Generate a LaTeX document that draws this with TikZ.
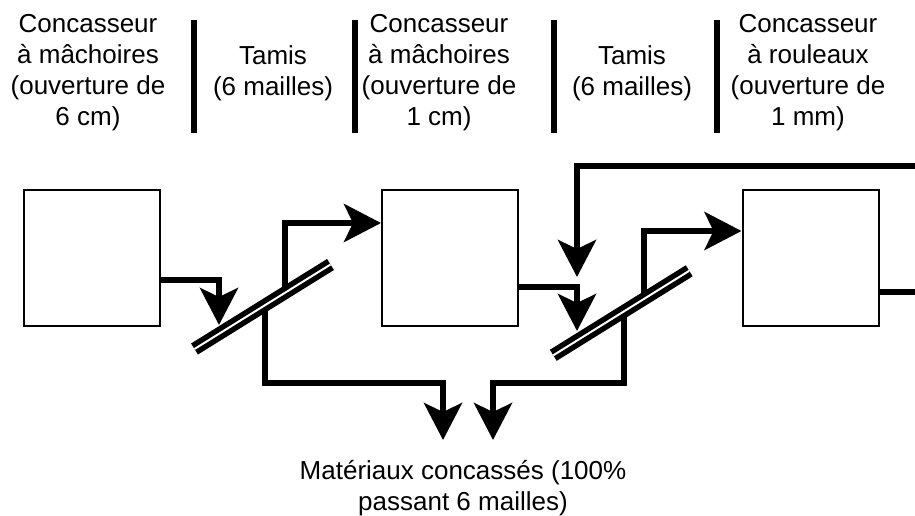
\documentclass[tikz,border=0pt]{standalone}
\usepackage{fontspec}
\setmainfont{Liberation Sans}
\usetikzlibrary{arrows.meta,calc}
\begin{document}
\begin{tikzpicture}[x=1pt,y=-1pt,
  crusher/.style={draw, line width=2pt, minimum size=136pt, inner sep=0pt},
  flow/.style={line width=6pt, -{Stealth[length=37pt,width=38pt,inset=9pt]}},
  flowplain/.style={line width=6pt},
  rail/.style={line width=5.5pt, double=white, double distance=2pt},
  divider/.style={line width=6pt},
  lbl/.style={font=\fontsize{26}{31}\selectfont, align=center, inner sep=0pt, anchor=north}]

\useasboundingbox (0,0) rectangle (915,516);
\fill[white] (0,0) rectangle (915,516);

% stage headings
\node[lbl] (h1) at (88,10.3)  {\strut Concasseur\\à mâchoires\\(ouverture de\\6 cm)};
\node[lbl] (h2) at (273,42.3) {\strut Tamis\\(6 mailles)};
\node[lbl] (h3) at (439,10.3) {\strut Concasseur\\à mâchoires\\(ouverture de\\1 cm)};
\node[lbl] (h4) at (632,42.3) {\strut Tamis\\(6 mailles)};
\node[lbl] (h5) at (808,10.3) {\strut Concasseur\\à rouleaux\\(ouverture de\\1 mm)};

% dividers between the headings
\draw[divider] (194,20) -- (194,133);
\draw[divider] (355,20) -- (355,133);
\draw[divider] (554,20) -- (554,133);
\draw[divider] (717,20) -- (717,133);

% crushers
\node[crusher] (b1) at (92,258) {};
\node[crusher] (b2) at (450,258) {};
\node[crusher] (b3) at (810.5,257.5) {};

% screens (end points) and connection points on them
\coordinate (s1a) at (194.5,349);
\coordinate (s1b) at (330.5,264.5);
\coordinate (s2a) at (553.3,355.3);
\coordinate (s2b) at (689.2,270.8);
\coordinate (s1in) at (219,325);
\coordinate (s1over) at (285,292.8);
\coordinate (s1under) at (265,305.2);
\coordinate (s2in) at (577,331);
\coordinate (s2rec) at (577,277);
\coordinate (s2over) at (644,299.3);
\coordinate (s2under) at (624,311.6);

% product outlet and open ends
\coordinate (out1) at (443,440);
\coordinate (out2) at (493,440);
\coordinate (recyc) at (915,166);
\coordinate (b3exit) at (915,292);
\node[lbl] (prod) at (463,457.3) {\strut Matériaux concassés (100\%\\passant 6 mailles)};

% material flow
\draw[flow] ([yshift=-22pt]b1.east) -| (s1in);
\draw[flow] (s1over) |- ([yshift=35pt]b2.west);
\draw[flow] (s1under) -- ++(0,78) -| (out1);
\draw[flow] ([yshift=-29pt]b2.east) -| (s2in);
\draw[flow] (recyc) -| (s2rec);
\draw[flow] (s2over) |- ([yshift=26.5pt]b3.west);
\draw[flow] (s2under) -- ++(0,71.4) -| (out2);
\draw[flowplain] ([yshift=-34.5pt]b3.east) -- (b3exit);

% screens on top of the flow lines
\draw[rail] (s1a) -- (s1b);
\draw[rail] (s2a) -- (s2b);
\end{tikzpicture}
\end{document}
